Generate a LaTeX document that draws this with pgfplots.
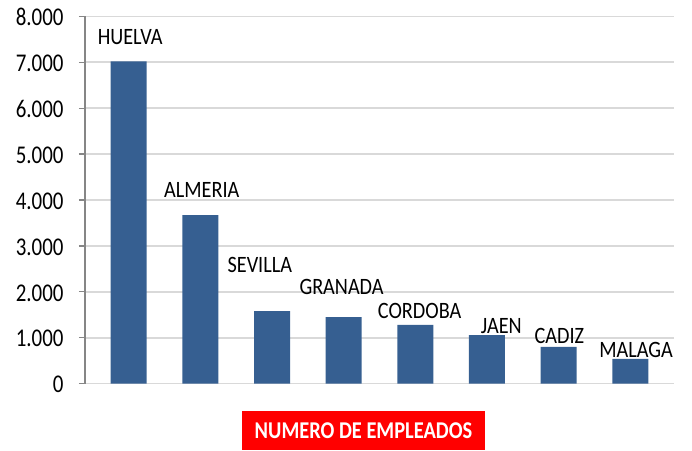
\documentclass[border=0pt]{standalone}
\usepackage{pgfplots}
\pgfplotsset{compat=1.18}
\usepackage{fontspec}
\setmainfont{Carlito}
\definecolor{barblue}{RGB}{54,95,145}
\definecolor{gridgray}{RGB}{217,217,217}
\definecolor{axgray}{RGB}{134,134,134}
\definecolor{boxred}{RGB}{255,0,0}
\newcommand{\tall}[2][1.16]{\scalebox{1}[#1]{#2}}
\begin{document}
\begin{tikzpicture}
\path[use as bounding box] (-85bp,-67.3bp) rectangle (607bp,383.7bp);
\begin{axis}[
  at={(0,0)}, anchor=south west, scale only axis,
  width=589bp, height=367.4bp,
  xmin=-0.61, xmax=7.61, ymin=0, ymax=8000,
  ytick={0,1000,...,8000},
  xtick=\empty,
  scaled y ticks=false,
  ymajorgrids, grid style={gridgray, line width=1.5bp},
  axis y line*=left, axis x line*=bottom,
  x axis line style={draw=none},
  y axis line style={axgray, line width=1.5bp},
  tick align=outside, major tick length=6bp,
  ytick style={axgray, line width=1.2bp},
  yticklabel style={font=\fontsize{21}{24}\selectfont, text=black, xshift=-12bp, yshift=-1bp},
  yticklabel={\tall[1.22]{\pgfmathprintnumber{\tick}}},
  /pgf/number format/1000 sep={.},
  /pgf/number format/assume math mode=true,
]
\addplot[ybar, bar width=36bp, fill=barblue, draw=none] coordinates {(0,7020) (1,3670) (2,1580) (3,1450) (4,1280) (5,1060) (6,800) (7,540)};
\begin{scope}[every node/.style={font=\fontsize{20.3}{24}\selectfont, inner sep=0pt}]
\node at (axis cs:0.02,7550) {\tall{HUELVA}};
\node at (axis cs:1.02,4218) {\tall{ALMERIA}};
\node at (axis cs:1.83,2585) {\tall{SEVILLA}};
\node at (axis cs:2.97,2106) {\tall{GRANADA}};
\node at (axis cs:4.06,1583) {\tall{CORDOBA}};
\node at (axis cs:5.2,1257) {\tall{JAEN}};
\node at (axis cs:6.01,1039) {\tall{CADIZ}};
\node at (axis cs:7.08,734) {\tall{MALAGA}};
\end{scope}
\end{axis}
\node[fill=boxred, text=white, font=\fontsize{20.5}{24}\selectfont\bfseries, minimum width=243bp, minimum height=39bp, inner sep=0pt] at (278.5bp,-46.8bp) {\tall[1.18]{NUMERO DE EMPLEADOS}};
\end{tikzpicture}
\end{document}
